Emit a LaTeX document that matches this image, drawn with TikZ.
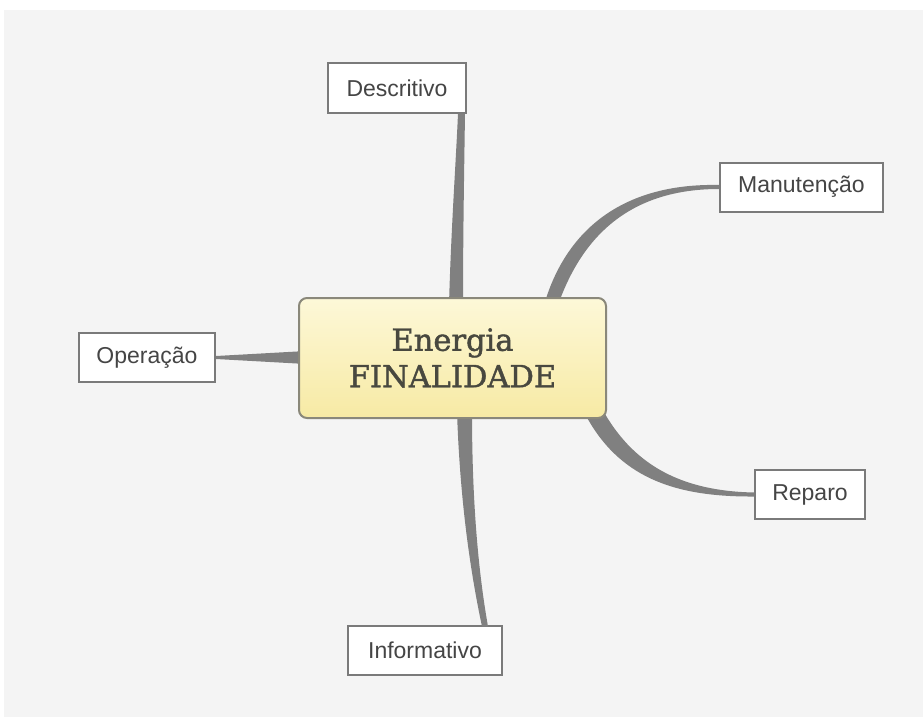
\documentclass[tikz,border=0pt]{standalone}
\usepackage{fontspec}
\setmainfont{Liberation Sans}
\newfontfamily\slabfont[FakeBold=1.4]{DejaVu Serif}
\usetikzlibrary{calc}
\definecolor{canvas}{HTML}{F4F4F4}
\definecolor{branchgray}{HTML}{808080}
\definecolor{leafedge}{HTML}{7A7A7A}
\definecolor{labelgray}{HTML}{454545}
\definecolor{coretop}{HTML}{FDF8D8}
\definecolor{corebot}{HTML}{F7EAA4}
\definecolor{coreedge}{HTML}{8A887A}
\definecolor{coretext}{HTML}{48483F}
\begin{document}
\begin{tikzpicture}[x=1pt,y=-1pt,
  leaf/.style={draw=leafedge, line width=2pt, fill=white, minimum width=#1,
    minimum height=49pt, inner sep=0pt, text=labelgray,
    font=\fontsize{23}{26}\selectfont},
  core/.style={draw=coreedge, line width=2pt, rounded corners=8pt,
    top color=coretop, bottom color=corebot, minimum width=307pt,
    minimum height=120pt, align=center, text=coretext,
    font=\slabfont\fontsize{30.5}{36.5}\selectfont},
  branch/.style={fill=branchgray}]
\useasboundingbox (0,0) rectangle (923,717);
\fill[canvas] (4,10) rectangle (923,717);

% leaf topics
\node[leaf=138pt] (desc) at (397,88) {Descritivo};
\node[leaf=163pt] (manu) at (801.5,187) {Manutenção};
\node[leaf=136pt] (oper) at (147,357.5) {Operação};
\node[leaf=110pt] (repa) at (810,494.5) {Reparo};
\node[leaf=154pt] (info) at (425,650) {Informativo};

% tapered branches, thick where they meet the central topic
\fill[branch] ($(desc.south)+(61,0)$) -- ($(desc.south)+(68,0)$)
  .. controls (464,180) and (463,240) .. (463,305)
  -- (449,305) .. controls (451,230) and (456,160) .. ($(desc.south)+(61,0)$) -- cycle;
\fill[branch] (544,305) .. controls (567,226) and (627,183) .. ($(manu.west)+(0,-2)$)
  -- ($(manu.west)+(0,2)$) .. controls (632,189) and (582,234) .. (557,308) -- cycle;
\fill[branch] ($(oper.east)+(0,-1.5)$) -- (306,351) -- (306,364) -- ($(oper.east)+(0,1.5)$) -- cycle;
\fill[branch] (584,412) .. controls (618,478) and (675,497) .. ($(repa.west)+(0,2)$)
  -- ($(repa.west)+(0,-2)$) .. controls (682,491) and (632,466) .. (600,405) -- cycle;
\fill[branch] (457,412) .. controls (460,500) and (470,570) .. ($(info.north)+(57,2)$)
  -- ($(info.north)+(63,2)$) .. controls (478,570) and (472,500) .. (472,412) -- cycle;

% central topic
\node[core] (core) at (452.5,358) {Energia\\FINALIDADE};
\end{tikzpicture}
\end{document}
